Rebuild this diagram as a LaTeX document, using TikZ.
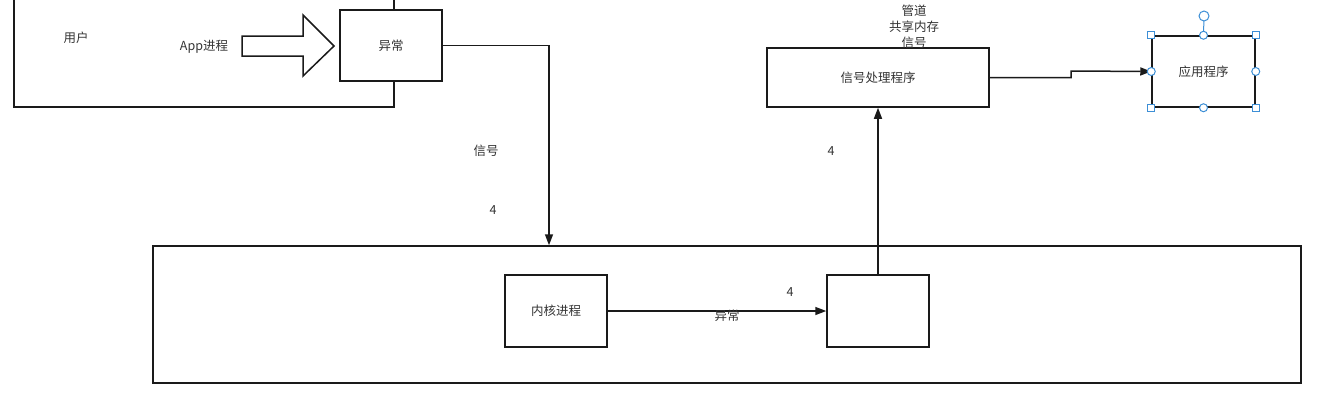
\documentclass[tikz,border=0pt]{standalone}
\usepackage{fontspec}
\setmainfont{Noto Sans CJK SC}
\usetikzlibrary{arrows.meta}
\definecolor{ln}{HTML}{1A1A1A}
\definecolor{tx}{HTML}{333333}
\definecolor{sel}{HTML}{3D8FD6}
\tikzset{
  box/.style={draw=ln, line width=1.5pt, fill=white, inner sep=0pt},
  lbl/.style={text=tx, font=\fontsize{12.5}{15}\selectfont, inner sep=0pt},
  conn/.style={draw=ln, line width=1.5pt, -{Triangle[length=11pt,width=8pt]}},
  hsq/.style={draw=sel, fill=white, line width=1pt, minimum size=7pt, inner sep=0pt, rectangle},
  hci/.style={draw=sel, fill=white, line width=1pt, minimum size=8pt, inner sep=0pt, circle},
}
\begin{document}
\begin{tikzpicture}[x=1pt,y=-1pt]
\useasboundingbox (0,0) rectangle (1317,400);
% user area
\draw[ln, line width=1.5pt] (394,0) -- (394,10);
\draw[ln, line width=1.5pt] (394,81) -- (394,107) -- (14,107) -- (14,0);
\node[lbl] (user) at (76,38) {用户};
\node[lbl] (app) at (204,47) {App进程};
% block arrow
\draw[ln, line width=1.5pt, fill=white] (242,36) -- (303,36) -- (303,15) -- (334,46) -- (303,76) -- (303,56) -- (242,56) -- cycle;
\node[box, minimum width=102pt, minimum height=71pt] (exc) at (391,45.5) {};
\node[lbl] at (exc) {异常};
% kernel
\node[box, minimum width=1148pt, minimum height=137pt] (kernel) at (727,314.5) {};
\node[box, minimum width=102pt, minimum height=72pt] (kproc) at (556,311) {};
\node[lbl] at (kproc) {内核进程};
\node[box, minimum width=102pt, minimum height=72pt] (rbox) at (878,311) {};
\node[box, minimum width=222pt, minimum height=59pt] (sig) at (878,77.5) {};
\node[lbl] at (sig) {信号处理程序};
\node[box, minimum width=103pt, minimum height=71pt] (appl) at (1203.5,71.5) {};
\node[lbl] at (appl) {应用程序};
% connectors
\coordinate (c1) at (549,45.5);
\draw[conn] (exc.east) -- (c1) -- (c1 |- kernel.north);
\draw[conn] (kproc.east) -- (rbox.west);
\draw[conn] (rbox.north) -- (sig.south);
\draw[conn] (sig.east) -- (1071,77.5) -- (1071,71) -- (appl.west);
% labels
\node[lbl] (l1) at (486,151) {信号};
\node[lbl] (l2) at (493,210) {4};
\node[lbl] (l3) at (727,316) {异常};
\node[lbl] (l4) at (790,292) {4};
\node[lbl] (l5) at (831,151) {4};
\node[lbl, align=center, font=\fontsize{12.5}{16}\selectfont] (l6) at (914,27) {管道\\共享内存\\信号};
% selection handles
\draw[sel, line width=1pt] (appl.north) -- (1204,16);
\node[hci, minimum size=10pt] at (1204,16) {};
\foreach \p in {north west, north east, south west, south east} \node[hsq] at (appl.\p) {};
\foreach \p in {north, south, east, west} \node[hci] at (appl.\p) {};
\end{tikzpicture}
\end{document}
